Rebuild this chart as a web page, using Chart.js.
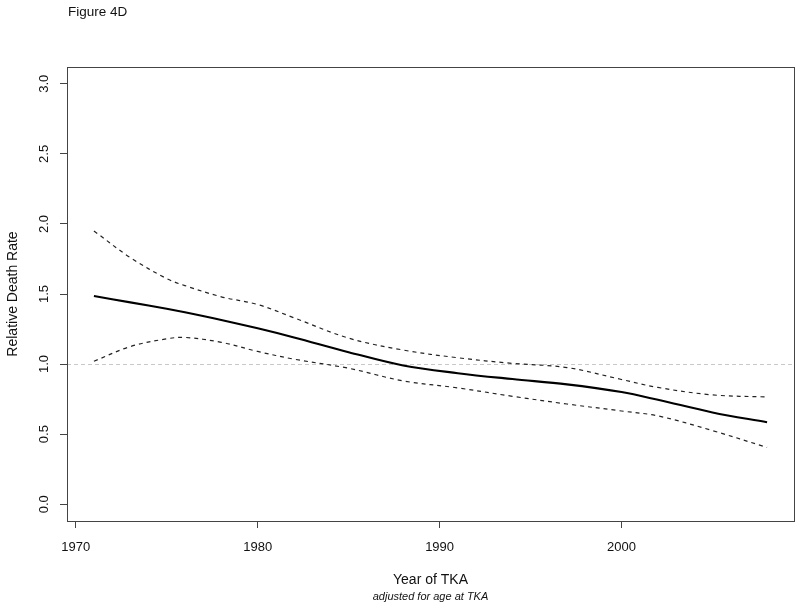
<!DOCTYPE html>
<html>
<head>
<meta charset="utf-8">
<script src="https://cdn.jsdelivr.net/npm/chart.js@4.4.0/dist/chart.umd.min.js"></script>
<style>
  html, body { margin: 0; padding: 0; background: #fff; }
  #wrap { width: 800px; height: 608px; position: relative; }
</style>
</head>
<body>
<div id="wrap"><canvas id="c" width="800" height="608"></canvas></div>
<script>
// ---- data ----
const years = [1971, 1973, 1975, 1976, 1978, 1980, 1982, 1985, 1988, 1991, 1994, 1997, 2000, 2002, 2005, 2008];
const estimate = [1.486, 1.44, 1.395, 1.37, 1.315, 1.255, 1.19, 1.085, 0.99, 0.935, 0.893, 0.855, 0.80, 0.745, 0.655, 0.585];
const upperCI = [1.95, 1.76, 1.61, 1.56, 1.48, 1.425, 1.33, 1.185, 1.10, 1.045, 1.005, 0.975, 0.89, 0.833, 0.78, 0.765];
const lowerCI = [1.02, 1.125, 1.18, 1.19, 1.155, 1.09, 1.035, 0.97, 0.88, 0.83, 0.77, 0.715, 0.665, 0.63, 0.525, 0.405];
const xTicks = [1970, 1980, 1990, 2000];
const yTicks = [0.0, 0.5, 1.0, 1.5, 2.0, 2.5, 3.0];
const referenceValue = 1.0;
const xRange = [1969.52, 2009.48];
const yRange = [-0.12, 3.12];
const titleText = "Figure 4D";
const xTitle = "Year of TKA";
const xSubtitle = "adjusted for age at TKA";
const yTitle = "Relative Death Rate";

const FONT = "'Liberation Sans', Arial, Helvetica, sans-serif";
const pts = arr => years.map((y, i) => ({ x: y, y: arr[i] }));

const decor = {
  id: 'decor',
  beforeDatasetsDraw(chart) {
    const { ctx, chartArea: a, scales: { y } } = chart;
    const py = Math.round(y.getPixelForValue(referenceValue)) + 0.5;
    ctx.save();
    ctx.strokeStyle = '#c8c8c8';
    ctx.lineWidth = 1;
    ctx.setLineDash([4, 3]);
    ctx.beginPath();
    ctx.moveTo(a.left, py);
    ctx.lineTo(a.right, py);
    ctx.stroke();
    ctx.restore();
  },
  afterDraw(chart) {
    const { ctx, chartArea: a, scales: { x, y } } = chart;
    ctx.save();
    // box
    ctx.strokeStyle = '#444';
    ctx.lineWidth = 1;
    ctx.strokeRect(Math.round(a.left) + 0.5, Math.round(a.top) + 0.5,
                   Math.round(a.right - a.left), Math.round(a.bottom - a.top));
    ctx.fillStyle = '#111';
    // x tick labels
    ctx.font = '13px ' + FONT;
    ctx.textAlign = 'center';
    ctx.textBaseline = 'middle';
    xTicks.forEach(v => ctx.fillText(String(v), x.getPixelForValue(v), 547));
    // y tick labels rotated
    yTicks.forEach(v => {
      ctx.save();
      ctx.translate(44, y.getPixelForValue(v));
      ctx.rotate(-Math.PI / 2);
      ctx.fillText(v.toFixed(1), 0, 0);
      ctx.restore();
    });
    // axis titles
    const cx = (a.left + a.right) / 2;
    ctx.font = '14px ' + FONT;
    ctx.fillText(xTitle, cx, 580);
    ctx.font = 'italic 11px ' + FONT;
    ctx.fillText(xSubtitle, cx, 597);
    ctx.save();
    ctx.translate(13, (a.top + a.bottom) / 2);
    ctx.rotate(-Math.PI / 2);
    ctx.font = '14px ' + FONT;
    ctx.fillText(yTitle, 0, 0);
    ctx.restore();
    // figure title
    ctx.textAlign = 'left';
    ctx.font = '13.5px ' + FONT;
    ctx.fillText(titleText, 68, 12);
    ctx.restore();
  }
};

new Chart(document.getElementById('c'), {
  type: 'line',
  data: {
    datasets: [
      { data: pts(upperCI), borderColor: '#222', borderWidth: 1.2, borderDash: [4, 4],
        pointRadius: 0, tension: 0.35, fill: false },
      { data: pts(lowerCI), borderColor: '#222', borderWidth: 1.2, borderDash: [4, 4],
        pointRadius: 0, tension: 0.35, fill: false },
      { data: pts(estimate), borderColor: '#000', borderWidth: 2.1,
        pointRadius: 0, tension: 0.35, fill: false }
    ]
  },
  options: {
    responsive: false,
    animation: false,
    events: [],
    layout: { padding: { left: 0, right: 6, top: 67, bottom: 0 } },
    plugins: { legend: { display: false }, tooltip: { enabled: false }, title: { display: false } },
    scales: {
      x: {
        type: 'linear',
        min: xRange[0], max: xRange[1],
        afterBuildTicks: s => { s.ticks = xTicks.map(v => ({ value: v })); },
        afterFit: s => { s.height = 87; },
        ticks: { display: false },
        grid: { drawOnChartArea: false, drawTicks: true, tickLength: 7, color: '#444', lineWidth: 1 },
        border: { display: false }
      },
      y: {
        type: 'linear',
        min: yRange[0], max: yRange[1],
        afterBuildTicks: s => { s.ticks = yTicks.map(v => ({ value: v })); },
        afterFit: s => { s.width = 67; },
        ticks: { display: false },
        grid: { drawOnChartArea: false, drawTicks: true, tickLength: 7, color: '#444', lineWidth: 1 },
        border: { display: false }
      }
    }
  },
  plugins: [decor]
});
</script>
</body>
</html>
